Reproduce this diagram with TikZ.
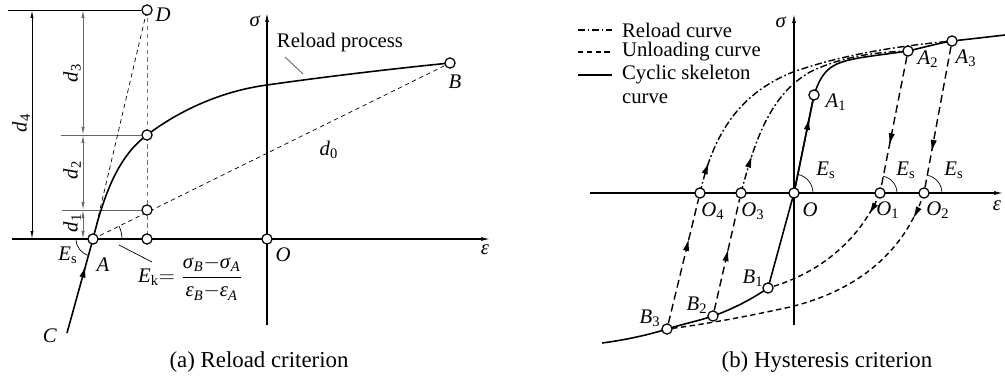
\documentclass[tikz,border=0pt]{standalone}
\usepackage{fontspec}
\setmainfont{Liberation Serif}
\usepackage{tikz}
\usetikzlibrary{arrows.meta,positioning,decorations.markings,backgrounds}
\tikzset{
rcdot/.style={circle,draw,fill=white,line width=0.7pt,minimum size=5.8pt,inner sep=0pt},
rcaxis/.style={line width=0.6pt,-{Latex[length=5pt,width=2.2pt]}},
rcplain/.style={line width=0.5pt},
rcdim/.style={line width=0.5pt,>={Latex[length=4.5pt,width=1.8pt]},<->},
rcdimgray/.style={rcdim,draw=black!60},
rctick/.style={line width=0.5pt,draw=black!60},
rcskel/.style={line width=0.9pt},
rcguide/.style={line width=0.4pt,dash pattern=on 2.5pt off 2pt},
rcguidegray/.style={rcguide,draw=black!55},
rcunload/.style={line width=0.8pt,dash pattern=on 3pt off 2pt},
rcstraight/.style={line width=0.8pt,dash pattern=on 4.5pt off 2.5pt},
rcreload/.style={line width=0.8pt,dash pattern=on 4pt off 1.5pt on 1pt off 1.5pt},
rcmid/.style={postaction={decorate},decoration={markings,mark=at position #1 with {\arrow{Latex[length=7pt,width=3.6pt]}}}},
rcangle/.style={line width=0.4pt},
rclabel/.style={font=\fontsize{11.8}{13}\selectfont,inner sep=1pt},
rccap/.style={font=\fontsize{13}{15}\selectfont}
}
\begin{document}
\begin{tikzpicture}[
x=0.02cm,
y=0.02cm,
every node/.style={rclabel}
]
\useasboundingbox (0,0) rectangle (1005,387);
% (a) reload criterion
\node[rcdot] (A) at (93,148) {};
\node[rcdot] (D) at (147,377) {};
\node[rcdot] (Pc) at (147,252) {};
\node[rcdot] (Pk) at (147,177) {};
\node[rcdot] (Pa) at (147,148) {};
\node[rcdot] (Oa) at (267,148) {};
\node[rcdot] (B) at (450,324) {};
\coordinate (Cend) at (67,54);
\coordinate (procA) at (285,330);
\coordinate (procB) at (303,313);
\coordinate (ekA) at (119,142);
\coordinate (ekB) at (152,125);
\begin{scope}[on background layer]
\draw[rcaxis] (12,148) -- (490,148);
\draw[rcaxis] (267,62) -- (267,374);
\draw[rcplain] (8,377) -- (D);
\draw[rcdim] (32,377) -- (32,148);
\draw[rcdimgray] (83,377) -- (83,252);
\draw[rctick] (61,252) -- (Pc);
\draw[rcdimgray] (83,252) -- (83,177);
\draw[rctick] (62,177) -- (Pk);
\draw[rcdimgray] (83,177) -- (83,148);
\draw[rcguidegray] (D.center) -- (Pa.center);
\draw[rcguide] (A.center) -- (D.center);
\draw[rcguide] (A.center) -- (B.center);
\draw[rcskel] (A.center) .. controls (105,197) and (120,232) .. (Pc.center)
  .. controls (180,277) and (222,296) .. (267,302)
  .. controls (330,311) and (400,319) .. (B.center);
\draw[rcskel,rcmid=0.72] (Cend) -- (A.center);
\draw[rcangle] (A.center) ++(180:17) arc[start angle=180,end angle=254.5,radius=17];
\draw[rcangle] (A.center) ++(0:29) arc[start angle=0,end angle=26,radius=29];
\draw[rcangle] (ekA) -- (ekB);
\draw[rctick] (procA) -- (procB);
\end{scope}
\node (dfour) [rotate=90] at (21,264) {\textit{d}\textsubscript{4}};
\node (dthree) [rotate=90] at (72,314) {\textit{d}\textsubscript{3}};
\node (dtwo) [rotate=90] at (72,217) {\textit{d}\textsubscript{2}};
\node (done) [rotate=90] at (72,164) {\textit{d}\textsubscript{1}};
\node (Dlab) at (163,372) {\textit{D}};
\node (Blab) at (455,305) {\textit{B}};
\node (Alab) at (103,122) {\textit{A}};
\node (Clab) at (50,51) {\textit{C}};
\node (Eslab) at (68,132) {\textit{E}\textsubscript{s}};
\node (Oalab) at (283,132) {\textit{O}};
\node (sigmaa) at (255,366) {\textit{σ}};
\node (epsa) at (485,137) {\textit{ε}};
\node (dzero) at (329,237) {\textit{d}\textsubscript{0}};
\node (proc) at (340,344) {Reload process};
\node[anchor=west] (Ek) at (136,109) {\textit{E}\textsubscript{k}$=\displaystyle\frac{\mbox{\textit{σ}\textsubscript{\textit{B}}$-$\textit{σ}\textsubscript{\textit{A}}}}{\mbox{\textit{ε}\textsubscript{\textit{B}}$-$\textit{ε}\textsubscript{\textit{A}}}}$};
\node[rccap] (capa) at (259,25) {(a) Reload criterion};
% (b) hysteresis criterion
\node[rcdot] (O) at (794,194) {};
\node[rcdot] (O1) at (880,194) {};
\node[rcdot] (O2) at (924,194) {};
\node[rcdot] (O3) at (741,194) {};
\node[rcdot] (O4) at (700,194) {};
\node[rcdot] (A1) at (814,292) {};
\node[rcdot] (A2) at (908,336) {};
\node[rcdot] (A3) at (952,346) {};
\node[rcdot] (B1) at (768,99) {};
\node[rcdot] (B2) at (713,71) {};
\node[rcdot] (B3) at (667,58) {};
\begin{scope}[on background layer]
\draw[rcaxis] (590,194) -- (1003,194);
\draw[rcaxis] (794,62) -- (794,373);
\draw[rcskel] (602,44) .. controls (625,47) and (648,52) .. (B3.center)
  .. controls (683,63) and (698,66) .. (B2.center)
  .. controls (733,78) and (752,88) .. (B1.center) -- (O.center) -- (A1.center)
  .. controls (823,319) and (832,325) .. (865,330)
  .. controls (885,333) and (895,334) .. (A2.center)
  .. controls (925,340) and (940,344) .. (A3.center)
  .. controls (970,348) and (988,350) .. (1005,352);
\draw[rcskel,rcmid=0.77] (O.center) -- (A1.center);
\draw[rcstraight,rcmid=0.68] (B3) -- (O4);
\draw[rcstraight,rcmid=0.55] (B2) -- (O3);
\draw[rcreload,rcmid=0.1] (O4.center) .. controls (712,247) and (735,292) .. (793,315)
  .. controls (850,335) and (910,342) .. (A3.center);
\draw[rcreload,rcmid=0.16] (O3.center) .. controls (755,247) and (770,292) .. (810,315)
  .. controls (845,332) and (880,335) .. (A2.center);
\draw[rcstraight,rcmid=0.68] (A2) -- (O1);
\draw[rcstraight,rcmid=0.75] (A3) -- (O2);
\draw[rcunload,rcmid=0.16] (O1.center) .. controls (862,152) and (825,115) .. (B1.center);
\draw[rcunload,rcmid=0.09] (O2.center) .. controls (905,137) and (860,97) .. (790,80)
  .. controls (740,69) and (700,62) .. (B3.center);
\draw[rcangle] (O.center) ++(0:19) arc[start angle=0,end angle=78.5,radius=19];
\draw[rcangle] (O1.center) ++(0:17) arc[start angle=0,end angle=79,radius=17];
\draw[rcangle] (O2.center) ++(0:18) arc[start angle=0,end angle=79.5,radius=18];
\end{scope}
% legend
\draw[rcreload] (578,357) -- (612,357);
\draw[rcunload] (578,335) -- (612,335);
\draw[rcskel] (578,312) -- (612,312);
\node[anchor=west] (legreload) at (620,357) {Reload curve};
\node[anchor=west] (legunload) at (620,335) {Unloading curve};
\node[anchor=west] (legskel) at (620,312) {Cyclic skeleton};
\node[anchor=west] (legcurve) at (620,288) {curve};
% labels
\node (sigmab) at (781,365) {\textit{σ}};
\node (epsb) at (997,181) {\textit{ε}};
\node (Olab) at (810,177) {\textit{O}};
\node (O1lab) at (888,177) {\textit{O}\textsubscript{1}};
\node (O2lab) at (938,177) {\textit{O}\textsubscript{2}};
\node (O3lab) at (753,176) {\textit{O}\textsubscript{3}};
\node (O4lab) at (713,176) {\textit{O}\textsubscript{4}};
\node (A1lab) at (836,285) {\textit{A}\textsubscript{1}};
\node (A2lab) at (928,328) {\textit{A}\textsubscript{2}};
\node (A3lab) at (966,329) {\textit{A}\textsubscript{3}};
\node (B1lab) at (753,109) {\textit{B}\textsubscript{1}};
\node (B2lab) at (697,82) {\textit{B}\textsubscript{2}};
\node (B3lab) at (650,69) {\textit{B}\textsubscript{3}};
\node (Es1) at (826,217) {\textit{E}\textsubscript{s}};
\node (Es2) at (906,217) {\textit{E}\textsubscript{s}};
\node (Es3) at (954,217) {\textit{E}\textsubscript{s}};
\node[rccap] (capb) at (827,25) {(b) Hysteresis criterion};
\end{tikzpicture}
\end{document}
